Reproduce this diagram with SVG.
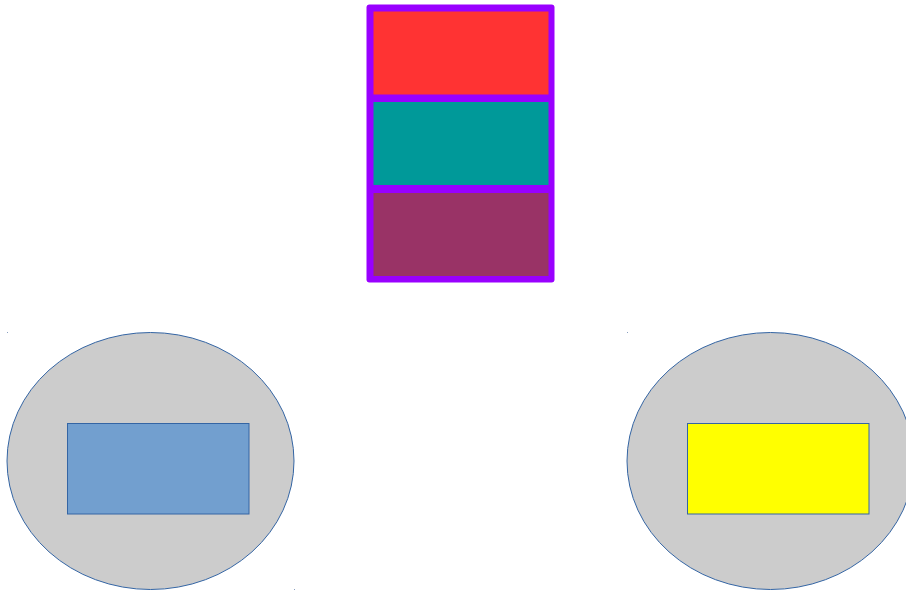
<svg xmlns="http://www.w3.org/2000/svg" width="906" height="591" viewBox="0 0 906 591">
<style>
.ell{fill:#cccccc;stroke:#3465a4;stroke-width:1}
.box{stroke:#3465a4;stroke-width:1}
.dot{fill:#8aa0c0}
</style>
<rect width="906" height="591" fill="#ffffff"/>
<g id="stack">
<rect x="366.5" y="4.5" width="188" height="278" rx="3" fill="#9900ff"/>
<rect x="373.5" y="11.5" width="175" height="83" fill="#ff3333"/>
<rect x="373.5" y="102" width="175" height="83" fill="#009999"/>
<rect x="373.5" y="193" width="175" height="83" fill="#993366"/>
</g>
<g id="left">
<ellipse class="ell" cx="150.5" cy="461" rx="143.5" ry="128.5"/>
<rect class="box" x="67.5" y="423.5" width="181.5" height="90.5" fill="#729fcf"/>
<rect class="dot" x="7" y="332" width="1" height="1"/>
<rect class="dot" x="294" y="589" width="1" height="1"/>
</g>
<g id="right">
<ellipse class="ell" cx="770.5" cy="461" rx="143.5" ry="128.5"/>
<rect class="box" x="687.5" y="423.5" width="181.5" height="90.5" fill="#ffff00"/>
<rect class="dot" x="627" y="332" width="1" height="1"/>
</g>
<g id="connectors"></g>
</svg>
